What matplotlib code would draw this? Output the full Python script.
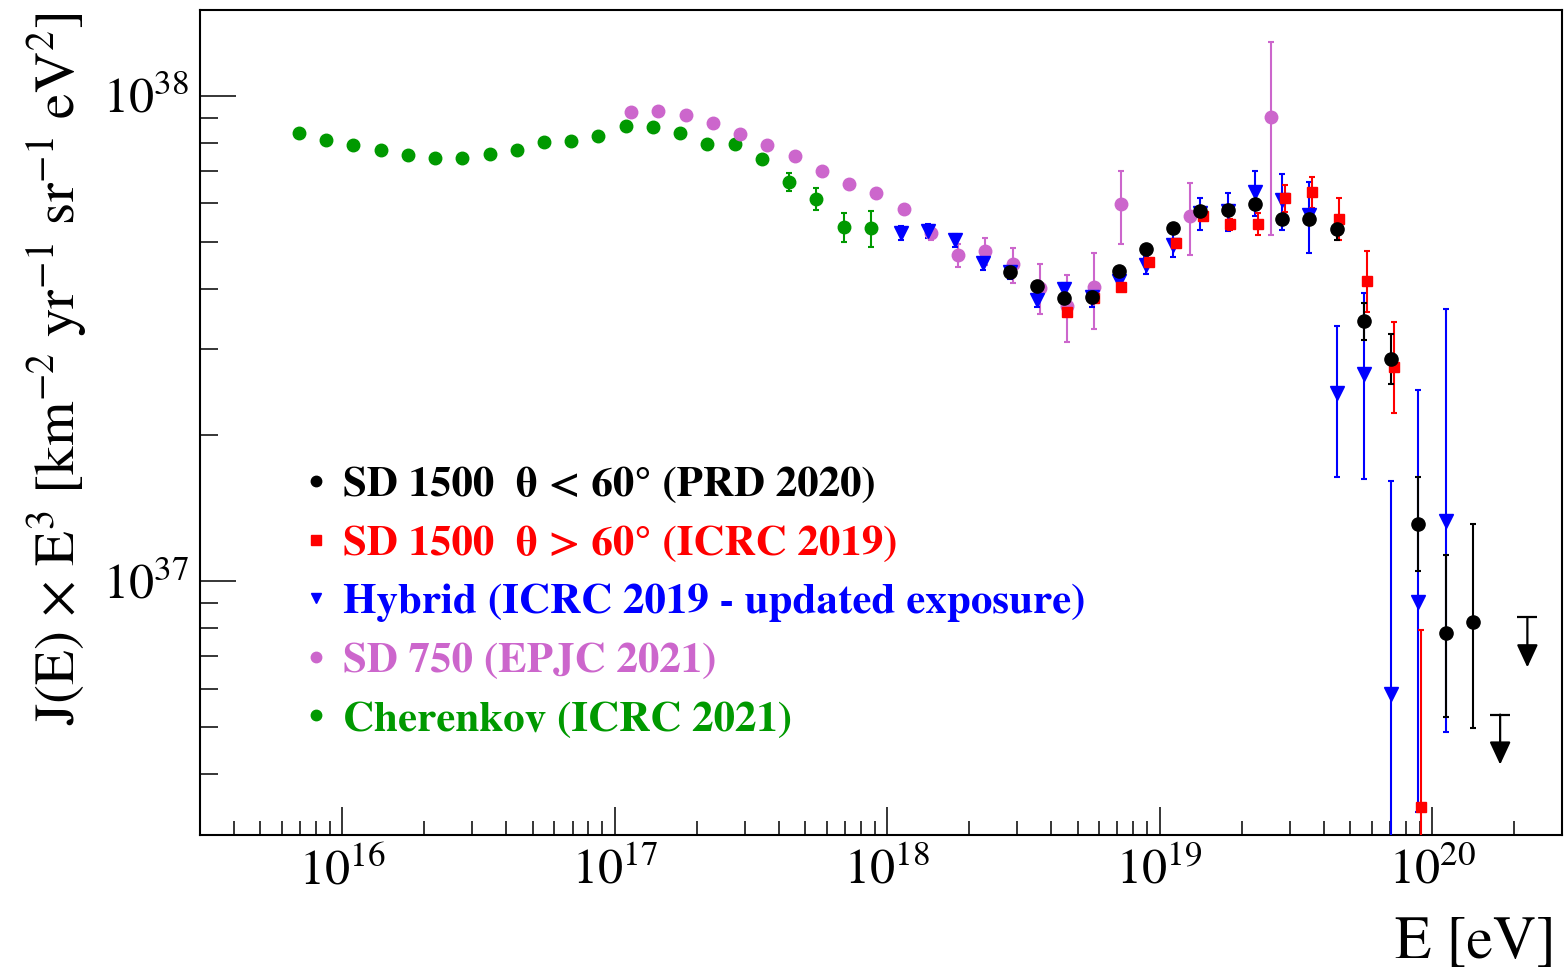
import numpy as np
import matplotlib
matplotlib.use('Agg')
import matplotlib.pyplot as plt
from matplotlib.lines import Line2D
from matplotlib.ticker import LogLocator, NullFormatter, FuncFormatter

plt.rcParams['font.family'] = ['STIXGeneral', 'DejaVu Serif']
plt.rcParams['mathtext.fontset'] = 'stix'

UNIT = 1e37  # flux values below are in units of 1e37 km^-2 yr^-1 sr^-1 eV^2

# ---- Cherenkov (ICRC 2021) ----
lgE_ch = [15.84, 15.94, 16.04, 16.14, 16.24, 16.34, 16.44, 16.54, 16.64, 16.74, 16.84,
          16.94, 17.04, 17.14, 17.24, 17.34, 17.44, 17.54, 17.64, 17.74, 17.84, 17.94]
J_ch = [8.37, 8.08, 7.92, 7.74, 7.55, 7.43, 7.45, 7.56, 7.73, 8.03, 8.07,
        8.26, 8.66, 8.63, 8.39, 7.95, 7.95, 7.41, 6.65, 6.12, 5.37, 5.33]
err_ch = [0.03, 0.03, 0.03, 0.03, 0.03, 0.03, 0.03, 0.03, 0.03, 0.03, 0.04,
          0.04, 0.05, 0.05, 0.05, 0.06, 0.07, 0.14, 0.29, 0.32, 0.37, 0.45]

# ---- SD 750 (EPJC 2021) ----
lgE_750 = [17.06, 17.16, 17.26, 17.36, 17.46, 17.56, 17.66, 17.76, 17.86, 17.96, 18.06,
           18.16, 18.26, 18.36, 18.46, 18.56, 18.66, 18.76, 18.86, 19.11, 19.41]
J_750 = [9.24, 9.27, 9.11, 8.78, 8.34, 7.89, 7.49, 7.00, 6.56, 6.29, 5.83,
         5.22, 4.69, 4.78, 4.49, 4.02, 3.68, 4.03, 5.97, 5.65, 9.02]
err_750 = [0.03, 0.03, 0.03, 0.03, 0.04, 0.04, 0.05, 0.05, 0.06, 0.07, 0.12,
           0.18, 0.25, 0.31, 0.37, 0.47, 0.58, 0.72, 1.03, 0.95, 3.85]

# ---- Hybrid (ICRC 2019 - updated exposure) ----
lgE_hy = [18.05, 18.15, 18.25, 18.35, 18.45, 18.55, 18.65, 18.75, 18.85, 18.95, 19.05,
          19.15, 19.25, 19.35, 19.45, 19.55, 19.65, 19.75, 19.85, 19.95, 20.05]
J_hy = [5.22, 5.27, 5.03, 4.52, 4.33, 3.80, 4.00, 3.84, 4.15, 4.47, 4.93,
        5.72, 5.77, 6.32, 6.08, 5.68, 2.44, 2.67, 0.585, 0.905, 1.33]
errlo_hy = [0.17, 0.17, 0.16, 0.14, 0.15, 0.14, 0.11, 0.17, 0.16, 0.19, 0.27,
            0.43, 0.52, 0.66, 0.80, 0.95, 0.80, 1.05, 0.58, 0.57, 0.84]
errhi_hy = [0.17, 0.17, 0.16, 0.14, 0.15, 0.14, 0.11, 0.17, 0.16, 0.19, 0.27,
            0.43, 0.52, 0.66, 0.80, 0.95, 0.91, 1.25, 1.02, 1.57, 2.31]

# ---- SD 1500 theta > 60 (ICRC 2019) ----
lgE_incl = [18.66, 18.76, 18.86, 18.96, 19.06, 19.16, 19.26, 19.36, 19.46, 19.56,
            19.66, 19.76, 19.86, 19.96]
J_incl = [3.59, 3.83, 4.03, 4.55, 4.97, 5.64, 5.43, 5.45, 6.16, 6.32,
          5.56, 4.15, 2.76, 0.342]
errlo_incl = [0.05, 0.05, 0.06, 0.07, 0.08, 0.10, 0.15, 0.28, 0.41, 0.45,
              0.53, 0.56, 0.54, 0.34]
errhi_incl = [0.05, 0.05, 0.06, 0.07, 0.08, 0.10, 0.15, 0.28, 0.38, 0.49,
              0.59, 0.64, 0.66, 0.45]

# ---- SD 1500 theta < 60 (PRD 2020) ----
lgE_vert = [18.45, 18.55, 18.65, 18.75, 18.85, 18.95, 19.05, 19.15, 19.25, 19.35,
            19.45, 19.55, 19.65, 19.75, 19.85, 19.95, 20.05, 20.15]
J_vert = [4.33, 4.05, 3.83, 3.85, 4.35, 4.84, 5.34, 5.77, 5.81, 5.97,
          5.56, 5.57, 5.31, 3.43, 2.86, 1.31, 0.78, 0.824]
errlo_vert = [0.04, 0.04, 0.04, 0.04, 0.05, 0.05, 0.06, 0.07, 0.08, 0.09,
              0.10, 0.12, 0.27, 0.29, 0.31, 0.26, 0.254, 0.326]
errhi_vert = [0.04, 0.04, 0.04, 0.04, 0.05, 0.05, 0.06, 0.07, 0.08, 0.09,
              0.10, 0.12, 0.27, 0.30, 0.36, 0.33, 0.35, 0.486]
# upper limits (90% CL)
lgE_ul = [20.25, 20.35]
J_ul = [0.531, 0.842]

series = [
    # lgE, J, err_lo, err_hi, marker, color, ms
    (lgE_ch, J_ch, err_ch, err_ch, 'o', '#009900', 9),
    (lgE_750, J_750, err_750, err_750, 'o', '#CC66CC', 9),
    (lgE_hy, J_hy, errlo_hy, errhi_hy, 'v', '#0000FF', 10.5),
    (lgE_incl, J_incl, errlo_incl, errhi_incl, 's', '#FF0000', 7.5),
    (lgE_vert, J_vert, errlo_vert, errhi_vert, 'o', '#000000', 9.5),
]

fig = plt.figure(figsize=(15.68, 9.71), dpi=100)
ax = fig.add_axes([200 / 1568, 1 - 835 / 971, 1362 / 1568, 825 / 971])

for lg, J, elo, ehi, mk, col, ms in series:
    E = 10 ** np.array(lg)
    y = np.array(J) * UNIT
    yerr = [np.array(elo) * UNIT, np.array(ehi) * UNIT]
    ax.errorbar(E, y, yerr=yerr, fmt=mk, color=col, ms=ms, mec=col,
                elinewidth=1.5, capsize=2.5, capthick=1.5, zorder=3)

# upper limits drawn as cap + downward arrow
for lg, ul in zip(lgE_ul, J_ul):
    ax.plot([10 ** lg], [ul * UNIT], marker='_', ms=14, mew=1.6, color='black')
    ax.annotate('', xy=(10 ** lg, ul * UNIT), xytext=(0, -36),
                textcoords='offset points',
                arrowprops=dict(arrowstyle='<|-,head_length=1.4,head_width=0.65',
                                mutation_scale=10, color='black', lw=1.6,
                                shrinkA=0, shrinkB=0))

ax.set_xscale('log')
ax.set_yscale('log')
ax.set_xlim(3.0e15, 3.0e20)
ax.set_ylim(3.0e36, 1.5e38)

ax.xaxis.set_major_locator(LogLocator(base=10, numticks=20))
ax.xaxis.set_minor_locator(LogLocator(base=10, subs=np.arange(2, 10), numticks=20))
ax.yaxis.set_major_locator(LogLocator(base=10, numticks=20))
ax.yaxis.set_minor_locator(LogLocator(base=10, subs=np.arange(2, 10), numticks=20))
fmt = FuncFormatter(lambda v, p: r'$10^{%d}$' % round(np.log10(v)))
ax.xaxis.set_major_formatter(fmt)
ax.yaxis.set_major_formatter(fmt)
ax.xaxis.set_minor_formatter(NullFormatter())
ax.yaxis.set_minor_formatter(NullFormatter())

ax.tick_params(which='both', direction='in', top=False, right=False, width=1.1,
               labelsize=36)
ax.tick_params(axis='y', which='major', length=26, pad=8)
ax.tick_params(axis='y', which='minor', length=13)
ax.tick_params(axis='x', which='major', length=20, pad=10)
ax.tick_params(axis='x', which='minor', length=10)
for sp in ax.spines.values():
    sp.set_linewidth(1.5)

fig.text(58 / 1568, 1 - 12 / 971,
         r'J(E) $\times$ E$^{3}$ [km$^{-2}$ yr$^{-1}$ sr$^{-1}$ eV$^{2}$]',
         rotation=90, ha='center', va='top', fontsize=41)
fig.text(1556 / 1568, 1 - 944 / 971, 'E [eV]', ha='right', va='center', fontsize=43)

# legend
leg_labels = ['SD 1500  \u03b8 < 60\u00b0 (PRD 2020)',
              'SD 1500  \u03b8 > 60\u00b0 (ICRC 2019)',
              'Hybrid (ICRC 2019 - updated exposure)',
              'SD 750 (EPJC 2021)',
              'Cherenkov (ICRC 2021)']
leg_colors = ['#000000', '#FF0000', '#0000FF', '#CC66CC', '#009900']
leg_markers = ['o', 's', 'v', 'o', 'o']
leg_ms = [7.5, 7, 7.5, 7.5, 7.5]
handles = [Line2D([], [], ls='none', marker=m, color=c, ms=s, mec=c)
           for m, c, s in zip(leg_markers, leg_colors, leg_ms)]
ax.legend(handles, leg_labels, loc='upper left', bbox_to_anchor=(0.076, 0.447),
          frameon=False, prop=dict(weight='bold', size=31), labelcolor=leg_colors,
          handlelength=0.6, handletextpad=0.31, labelspacing=0.45,
          borderpad=0, borderaxespad=0)

fig.savefig('out.png', dpi=100, facecolor='white')
